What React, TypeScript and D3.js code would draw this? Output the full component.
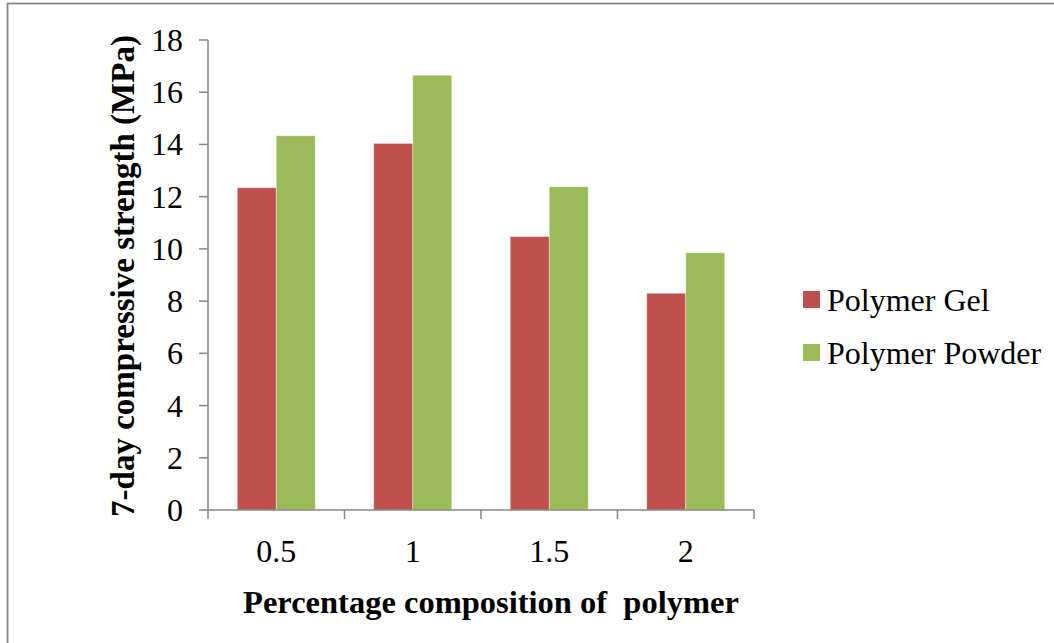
import React from "react";
import * as d3 from "d3";

// Polymer content (%) on the x axis
const categories: string[] = ["0.5", "1", "1.5", "2"];
// 7-day compressive strength (MPa)
const gelValues: number[] = [12.34, 14.04, 10.47, 8.3];
const powderValues: number[] = [14.33, 16.65, 12.38, 9.85];
const seriesNames: string[] = ["Polymer Gel", "Polymer Powder"];
const yTicks: number[] = [0, 2, 4, 6, 8, 10, 12, 14, 16, 18];

const W = 1054;
const H = 643;
const left = 208;
const right = 754;
const top = 40;
const bottom = 510;

const colors = ["#C0504D", "#9BBB59"];
const axisColor = "#868686";
const font = "Liberation Serif";

export default function App() {
  const x = d3.scaleBand<string>().domain(categories).range([left, right]).paddingInner(0).paddingOuter(0);
  const inner = d3
    .scaleBand<number>()
    .domain([0, 1])
    .range([0, x.bandwidth()])
    .paddingInner(0)
    .paddingOuter(0.75);
  const y = d3.scaleLinear().domain([0, 18]).range([bottom, top]);

  const series = [gelValues, powderValues];
  const xTickPositions = [...categories.map((c) => x(c) as number), right];

  return (
    <svg
      width={W}
      height={H}
      style={{ position: "absolute", left: 0, top: 0, display: "block", background: "#fff" }}
    >
      <rect x={7.5} y={3.5} width={1200} height={800} fill="none" stroke={axisColor} strokeWidth={1.8} />

      {/* bars */}
      {series.map((vals, si) =>
        vals.map((v, ci) => (
          <rect
            key={`${si}-${ci}`}
            x={(x(categories[ci]) as number) + (inner(si) as number)}
            y={y(v)}
            width={inner.bandwidth()}
            height={bottom - y(v)}
            fill={colors[si]}
            stroke="#ffffff"
            strokeOpacity={0.45}
            strokeWidth={0.8}
          />
        ))
      )}

      {/* y axis */}
      <line x1={left} x2={left} y1={top} y2={bottom} stroke={axisColor} strokeWidth={1.5} />
      {yTicks.map((t) => (
        <g key={t}>
          <line x1={left - 9} x2={left} y1={y(t)} y2={y(t)} stroke={axisColor} strokeWidth={1.5} />
          <text
            x={left - 25}
            y={y(t) + 11}
            textAnchor="end"
            fontFamily={font}
            fontSize={32}
            fill="#000"
          >
            {t}
          </text>
        </g>
      ))}

      {/* x axis */}
      <line x1={left} x2={right} y1={bottom} y2={bottom} stroke={axisColor} strokeWidth={1.5} />
      {xTickPositions.map((p, i) => (
        <line key={i} x1={p} x2={p} y1={bottom} y2={bottom + 9} stroke={axisColor} strokeWidth={1.5} />
      ))}
      {categories.map((c) => (
        <text
          key={c}
          x={(x(c) as number) + x.bandwidth() / 2}
          y={562}
          textAnchor="middle"
          fontFamily={font}
          fontSize={32}
          fill="#000"
        >
          {c}
        </text>
      ))}

      {/* axis titles */}
      <text
        x={(left + right) / 2 + 10}
        y={613}
        textAnchor="middle"
        fontFamily={font}
        fontSize={32.5}
        fontWeight="bold"
        fill="#000"
        style={{ whiteSpace: "pre" }}
      >
        {"Percentage composition of  polymer"}
      </text>
      <text
        transform={`translate(134, 276) rotate(-90)`}
        textAnchor="middle"
        fontFamily={font}
        fontSize={33}
        fontWeight="bold"
        fill="#000"
      >
        7-day compressive strength (MPa)
      </text>

      {/* legend */}
      {seriesNames.map((name, i) => (
        <g key={name} transform={`translate(803, ${291 + i * 53})`}>
          <rect x={0} y={0} width={17} height={17} fill={colors[i]} />
          <text x={24} y={19.7} fontFamily={font} fontSize={32} fill="#000">
            {name}
          </text>
        </g>
      ))}
    </svg>
  );
}
